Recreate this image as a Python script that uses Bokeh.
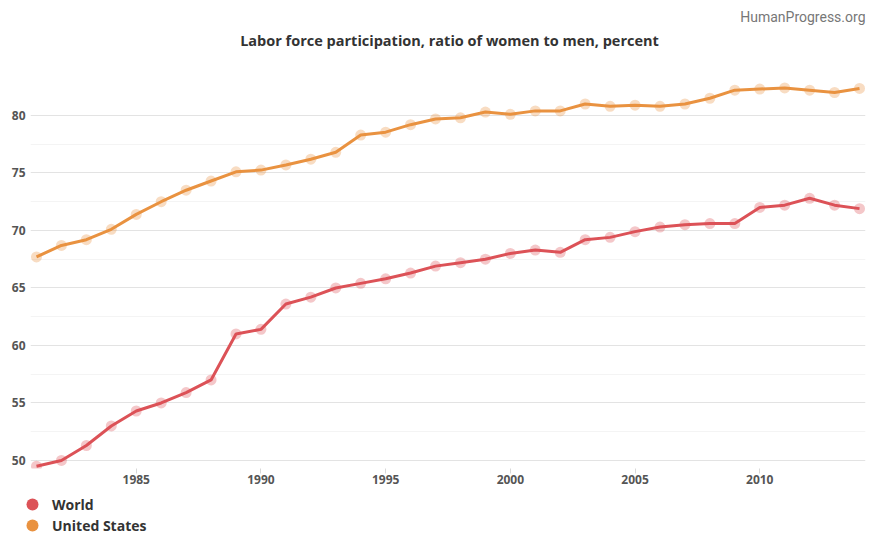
from bokeh.plotting import figure
from bokeh.layouts import column
from bokeh.models import Range1d, FixedTicker, Label, Legend, LegendItem
from bokeh.embed import file_html
from bokeh.resources import INLINE

years = list(range(1981, 2015))
world = [49.5, 50.0, 51.3, 53.0, 54.3, 55.0, 55.9, 57.0, 61.0, 61.4,
         63.6, 64.2, 65.0, 65.4, 65.8, 66.3, 66.9, 67.2, 67.5, 68.0,
         68.3, 68.1, 69.2, 69.4, 69.9, 70.3, 70.5, 70.6, 70.6, 72.0,
         72.2, 72.8, 72.2, 71.9]
united_states = [67.7, 68.7, 69.2, 70.1, 71.4, 72.5, 73.5, 74.3, 75.1, 75.25,
                 75.7, 76.2, 76.8, 78.3, 78.55, 79.2, 79.7, 79.8, 80.3, 80.1,
                 80.4, 80.4, 81.0, 80.8, 80.9, 80.8, 81.0, 81.5, 82.2, 82.3,
                 82.4, 82.2, 82.0, 82.35]
y_ticks = [50, 55, 60, 65, 70, 75, 80]
y_minor_ticks = [52.5, 57.5, 62.5, 67.5, 72.5, 77.5]
x_ticks = [1985, 1990, 1995, 2000, 2005, 2010]
series_names = ["World", "United States"]
title_text = "Labor force participation, ratio of women to men, percent"
credit_text = "HumanProgress.org"

RED = "#dc5257"
ORANGE = "#e99240"

p = figure(width=869, height=492, output_backend="svg", toolbar_location=None,
           x_range=Range1d(1980.76, 2014.24), y_range=Range1d(49.30, 90.0),
           min_border_left=30, min_border_right=4, min_border_top=0,
           min_border_bottom=24)
p.frame_align = False
p.outline_line_color = None
p.background_fill_color = "white"
p.border_fill_color = "white"

# axes
p.yaxis.ticker = FixedTicker(ticks=y_ticks, minor_ticks=y_minor_ticks)
p.xaxis.ticker = FixedTicker(ticks=x_ticks)
for ax in (p.xaxis[0], p.yaxis[0]):
    ax.axis_line_color = None
    ax.minor_tick_line_color = None
    ax.major_label_text_font = "Open Sans"
    ax.major_label_text_font_style = "bold"
    ax.major_label_text_font_size = "12px"
    ax.major_label_text_color = "#555555"
p.yaxis.major_tick_line_color = None
p.yaxis.major_tick_in = 0
p.yaxis.major_tick_out = 0
p.yaxis.minor_tick_in = 0
p.yaxis.minor_tick_out = 0
p.yaxis.major_label_standoff = 5
p.xaxis.major_tick_line_color = "#d8d8d8"
p.xaxis.major_tick_in = 0
p.xaxis.major_tick_out = 5
p.xaxis.minor_tick_in = 0
p.xaxis.minor_tick_out = 0
p.xaxis.major_label_standoff = 1

# grid
p.xgrid.visible = False
p.ygrid.ticker = FixedTicker(ticks=y_ticks, minor_ticks=y_minor_ticks)
p.ygrid.grid_line_color = "#e3e3e3"
p.ygrid.grid_line_width = 1
p.ygrid.minor_grid_line_color = "#f4f4f4"

# series
p.line(years, world, line_color=RED, line_width=3)
p.scatter(years, world, size=11, fill_color=RED, fill_alpha=0.32, line_color=None)
p.line(years, united_states, line_color=ORANGE, line_width=3)
p.scatter(years, united_states, size=11, fill_color=ORANGE, fill_alpha=0.32, line_color=None)

title = Label(x=419, y=428, x_units="screen", y_units="screen", text=title_text,
              text_align="center", text_baseline="middle", text_font="Open Sans",
              text_font_style="bold", text_font_size="14.5px", text_color="#333333")
p.add_layout(title)
credit = Label(x=835, y=452, x_units="screen", y_units="screen", text=credit_text,
               text_align="right", text_baseline="middle", text_font="Roboto",
               text_font_size="14px", text_color="#777777")
p.add_layout(credit)

# legend strip below the chart (legend swatches use the first point of
# each series, which lies outside this strip's own ranges)
lg = figure(width=869, height=46, output_backend="svg", toolbar_location=None,
            x_range=Range1d(0, 1), y_range=Range1d(0, 1),
            x_axis_location=None, y_axis_location=None,
            min_border_left=0, min_border_right=0, min_border_top=0,
            min_border_bottom=0)
lg.frame_align = False
lg.outline_line_color = None
lg.xgrid.visible = False
lg.ygrid.visible = False
r_w = lg.scatter(x=years[:1], y=world[:1], size=12, fill_color=RED, line_color=None)
r_us = lg.scatter(x=years[:1], y=united_states[:1], size=12, fill_color=ORANGE, line_color=None)


def make_legend(label, renderer, loc):
    lgd = Legend(items=[LegendItem(label=label, renderers=[renderer])], location=loc)
    lgd.border_line_color = None
    lgd.background_fill_alpha = 0
    lgd.label_text_font = "Open Sans"
    lgd.label_text_font_style = "bold"
    lgd.label_text_font_size = "14px"
    lgd.label_text_color = "#333333"
    lgd.glyph_width = 30
    lgd.glyph_height = 30
    lgd.label_height = 20
    lgd.spacing = 0
    lgd.padding = 0
    lgd.margin = 0
    lgd.label_standoff = 5
    return lgd


lg.add_layout(make_legend(series_names[0], r_w, (17, 19)))
lg.add_layout(make_legend(series_names[1], r_us, (17, -2)))

layout = column(p, lg, spacing=0)
open("out.html", "w").write(file_html(layout, INLINE))
